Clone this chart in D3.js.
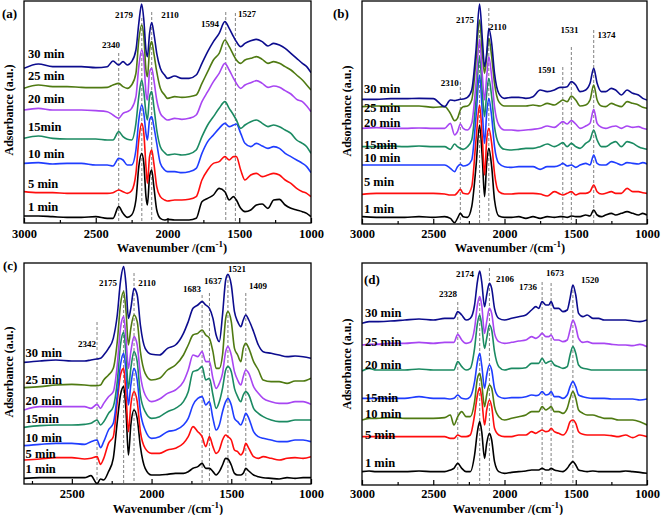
<!DOCTYPE html>
<html><head><meta charset="utf-8">
<script src="https://cdn.jsdelivr.net/npm/d3@7"></script>
<style>
body{margin:0;background:#fff}
svg{display:block}
text{font-family:"Liberation Serif","Times New Roman",serif;font-weight:bold;fill:#000}
</style>
</head><body>
<svg id="chart" width="661" height="515"></svg>
<script>
// ---------- DATA (absorbance in arbitrary units, stacked as plotted) ----------
const seriesLabels = ["30 min","25 min","20 min","15min","10 min","5 min","1 min"];
const seriesLabelsD = ["30 min","25 min","20 min","15min","10 min","5 min","1 min"];
const ticksMain = [3000,2500,2000,1500,1000];
const ticksC = [2500,2000,1500,1000];
const minorMain = [2750,2250,1750,1250];

// Panel (a)
const wnA = [3000,2900,2800,2700,2600,2500,2420,2380,2340,2310,2280,2250,2220,2200,2180,2165,2150,2140,2125,2110,2095,2075,2050,2020,2000,1950,1900,1850,1800,1760,1720,1680,1640,1600,1570,1540,1520,1490,1460,1420,1380,1340,1300,1260,1220,1180,1140,1100,1060,1030,1000];
const a30 = [795,808,800,800,800,797,800,817,805,815,805,815,850,930,988,940,850,830,900,932,900,840,795,775,765,772,765,765,775,810,845,875,900,935,915,890,875,860,870,878,882,875,862,870,865,855,840,825,810,800,782];
const a25 = [735,745,740,740,738,737,738,745,750,740,735,745,780,880,925,890,790,770,850,875,840,785,735,715,705,710,708,710,715,750,785,820,840,880,860,835,820,810,820,825,830,822,810,815,810,800,790,775,760,745,730];
const a20 = [670,675,670,670,670,668,665,655,645,660,665,675,710,800,850,820,720,700,785,795,760,700,660,645,640,645,642,645,655,695,725,755,780,810,790,765,750,735,745,752,758,750,738,742,738,728,718,702,695,682,665];
const a15 = [585,592,585,583,583,583,580,580,605,590,582,580,630,710,760,725,660,640,710,725,680,610,560,542,535,538,535,538,550,590,625,650,675,695,675,655,640,615,625,635,640,630,620,625,620,610,600,580,570,560,540];
const a10 = [510,512,508,510,510,505,505,502,525,520,505,505,550,640,685,660,600,580,640,650,620,570,510,490,485,485,482,485,495,540,575,595,615,630,620,625,628,600,570,560,570,562,555,560,555,540,530,520,510,500,482];
const a5  = [425,422,422,420,420,420,420,422,430,425,420,428,480,580,630,600,500,450,530,550,510,440,410,400,397,400,400,402,410,460,490,510,515,530,520,530,530,490,460,475,480,470,475,480,475,460,450,435,425,420,410];
const a1  = [352,352,350,348,348,350,345,345,380,360,348,355,400,500,540,510,410,385,470,490,440,370,345,340,342,340,340,340,345,395,405,415,435,425,400,410,400,375,365,370,385,388,375,400,402,385,375,370,365,360,350];
const peaksA = [2340,2179,2110,1594,1527];
const peakTopA = [841,946,964,964,961];
const peakLabelWnA = [2394,2303,1983,1704,1446];
const peakLabelValA = [856,946,946,919,949];
const labelValA = [826,760,691,607,526,436,367];

// Panel (b)
const wnB = [3000,2900,2800,2700,2600,2500,2420,2380,2350,2330,2310,2290,2260,2230,2200,2175,2155,2140,2125,2110,2090,2070,2040,2000,1950,1900,1850,1800,1750,1700,1650,1610,1591,1560,1531,1500,1470,1430,1400,1374,1350,1320,1290,1250,1220,1180,1140,1100,1060,1030,1000];
const b30 = [702,702,704,704,705,704,680,700,698,700,702,703,708,730,850,988,880,800,840,915,870,780,720,705,708,708,705,710,730,725,730,738,738,740,755,745,725,730,750,795,750,725,725,735,730,715,730,720,715,705,700];
const b25 = [680,682,682,682,682,678,680,660,638,645,670,680,682,700,820,940,840,780,830,885,830,750,695,682,682,682,682,685,682,690,685,695,700,695,712,700,682,685,700,745,700,682,680,690,685,680,695,690,685,678,675];
const b20 = [615,617,615,615,616,615,615,630,595,605,628,615,610,630,750,882,770,700,770,830,770,680,625,610,610,608,610,612,615,622,618,630,635,628,638,628,615,622,630,672,630,618,615,620,622,615,622,618,620,615,612];
const b15 = [560,560,562,560,562,560,560,552,568,560,555,552,560,580,700,830,720,650,720,765,710,620,568,552,550,552,555,555,560,568,560,568,572,560,570,560,555,570,580,610,580,560,560,570,575,560,575,570,560,555,552];
const b10 = [505,505,505,505,505,505,505,495,485,500,507,502,505,520,650,775,660,570,660,705,650,560,510,500,498,500,500,500,492,500,500,505,510,502,505,498,505,510,505,535,510,505,505,515,512,505,512,510,508,512,508];
const b5  = [417,420,420,420,420,420,418,415,415,422,432,420,418,440,580,685,580,475,580,615,570,480,425,418,418,420,420,420,418,412,425,418,415,420,425,415,420,420,425,445,425,418,420,425,420,420,435,425,425,422,420];
const b1  = [350,348,348,348,350,348,350,345,332,345,360,350,348,380,500,625,520,410,510,555,500,400,352,348,348,350,345,350,345,350,348,350,350,348,352,350,350,355,352,370,355,350,355,360,355,360,365,360,355,360,355];
const peaksB = [2310,2175,2110,1591,1531,1374];
const peakTopB = [754,910,976,799,859,910];
const peakLabelWnB = [2384,2278,2047,1704,1543,1284];
const peakLabelValB = [742,931,910,781,901,886];
const labelValB = [721,664,619,553,514,442,361];

// Panel (c)
const wnC = [2800,2700,2600,2500,2420,2380,2342,2320,2300,2270,2240,2215,2195,2175,2160,2145,2130,2110,2090,2070,2040,2000,1950,1900,1850,1800,1770,1740,1710,1683,1660,1637,1615,1595,1575,1555,1535,1521,1500,1480,1460,1440,1425,1409,1390,1360,1330,1300,1250,1200,1150,1100,1050,1000];
const c30 = [678,682,685,682,682,685,688,690,700,720,750,820,920,965,910,810,840,900,880,790,720,702,700,720,730,765,800,840,850,860,850,840,810,760,740,820,925,942,910,830,800,785,805,820,805,770,730,710,705,700,695,697,695,690];
const c25 = [602,605,610,612,610,608,608,610,625,640,660,740,850,890,830,730,780,820,800,710,645,625,630,655,670,700,730,760,765,775,760,750,710,660,660,700,810,830,800,720,700,680,720,735,720,680,655,625,620,620,615,622,622,630];
const c20 = [535,545,545,545,545,540,552,540,555,575,590,670,780,815,750,660,710,755,730,640,580,560,568,585,595,620,655,700,695,710,680,680,630,600,615,645,710,725,700,650,625,610,635,655,645,605,585,570,560,555,555,560,560,552];
const c15 = [483,488,490,490,492,495,505,490,500,525,545,620,730,768,700,600,660,710,680,580,530,510,515,530,540,560,590,650,655,665,625,630,580,540,560,600,655,665,650,600,575,560,580,590,580,540,525,515,505,500,500,505,505,505];
const c10 = [428,432,435,435,432,440,445,422,440,475,495,580,670,705,650,550,610,660,625,530,475,450,455,470,475,490,510,550,570,575,550,560,510,475,490,530,560,570,550,510,500,490,505,525,510,470,455,450,445,440,440,445,445,440];
const c5  = [385,388,392,392,388,390,395,372,390,435,455,560,640,660,580,470,550,590,560,470,420,405,405,415,420,435,455,485,470,455,425,455,425,405,415,445,460,455,445,415,410,400,410,435,420,395,390,395,390,385,390,392,390,395];
const c1  = [330,332,332,332,332,338,314,328,325,350,390,500,580,605,530,400,490,535,510,425,360,340,340,342,345,345,350,360,365,375,360,360,350,340,350,370,390,388,370,345,340,340,345,360,352,340,335,332,330,328,332,330,332,332];
const peaksC = [2342,2175,2110,1683,1637,1521,1409];
const peakTopC = [799,895,946,880,886,940,886];
const peakLabelWnC = [2405,2273,2029,1746,1615,1464,1332];
const peakLabelValC = [724,907,907,889,913,949,898];
const labelValC = [694,613,550,496,439,391,346];

// Panel (d)
const wnD = [3000,2950,2900,2800,2700,2600,2500,2420,2380,2355,2328,2300,2270,2240,2210,2190,2174,2160,2140,2125,2106,2090,2070,2040,2000,1950,1900,1850,1810,1780,1760,1736,1710,1690,1673,1650,1620,1590,1560,1540,1520,1500,1480,1450,1420,1380,1340,1300,1250,1200,1150,1100,1050,1000];
const d30 = [795,800,800,802,805,808,805,810,810,810,830,820,805,810,850,920,952,920,845,880,915,900,840,810,805,810,815,820,835,845,840,860,850,850,860,840,840,830,835,870,910,880,825,815,820,810,810,805,805,805,805,802,800,805];
const d25 = [730,732,732,735,735,738,735,738,738,738,762,745,735,738,780,850,875,850,765,800,840,825,765,740,735,738,742,745,755,750,755,765,755,755,760,745,745,740,745,775,805,785,750,738,740,735,735,735,732,730,730,728,732,725];
const d20 = [652,660,655,655,655,658,655,655,655,655,680,665,655,660,720,795,820,790,720,750,790,775,710,665,655,660,660,662,675,675,675,690,675,680,682,670,665,660,665,700,725,705,670,660,658,655,655,655,655,655,655,655,655,655];
const d15 = [570,570,570,570,570,575,570,570,568,570,580,570,568,575,620,680,705,670,600,640,670,655,600,575,570,572,572,575,580,578,580,590,580,582,590,575,575,570,580,605,620,605,580,575,572,570,570,570,568,568,568,568,565,568];
const d10 = [505,510,510,512,510,510,510,512,520,490,515,530,515,515,560,630,645,615,545,580,610,600,545,515,505,510,515,520,530,530,530,545,535,540,545,530,530,525,540,570,590,570,535,525,520,520,515,510,510,505,505,505,500,490];
const d5  = [455,455,455,455,455,455,455,455,450,450,460,455,455,460,520,580,602,570,490,535,565,545,480,460,455,455,460,460,470,465,470,475,470,472,480,470,465,460,475,500,505,495,470,462,460,460,460,460,458,455,460,452,460,455];
const d1  = [350,352,350,350,350,352,350,350,355,360,375,360,350,350,400,470,500,470,390,435,465,445,380,350,345,348,350,352,355,355,355,360,355,355,360,355,352,350,360,372,380,370,355,352,350,352,350,350,350,350,352,350,348,345];
const peaksD = [2328,2174,2106,1736,1673,1520];
const peakTopD = [859,871,961,919,916,910];
const peakLabelWnD = [2396,2277,1996,1835,1646,1400];
const peakLabelValD = [874,934,919,895,937,916];
const labelValD = [814,727,658,559,511,448,364];

const colorsStd = ["#0c0c8e","#4f7a12","#a846f2","#1b8a62","#1f3dff","#ff0d0d","#000000"];
const colorsD   = ["#0c0c8e","#a846f2","#1b8a62","#1f3dff","#4f7a12","#ff0d0d","#000000"];

// ---------- DRAW ----------
const svg = d3.select("#chart");
const panels = [
  {letter:"(a)", lx:2, ly:18, box:{l:24,r:311,t:1,b:223}, xd:[3000,1000], yd:[331,997], wn:wnA,
   series:[a30,a25,a20,a15,a10,a5,a1], colors:colorsStd, ticks:ticksMain, minor:minorMain, labels:seriesLabels,
   labelWn:2972, labelVal:labelValA, peaks:peaksA, peakTop:peakTopA, plw:peakLabelWnA, plv:peakLabelValA,
   tickY:15, titleX:172, titleY:252, ylabX:13, ylabY:110},
  {letter:"(b)", lx:333, ly:18, box:{l:362,r:647,t:1,b:224}, xd:[3000,1000], yd:[328,997], wn:wnB,
   series:[b30,b25,b20,b15,b10,b5,b1], colors:colorsStd, ticks:ticksMain, minor:minorMain, labels:seriesLabels,
   labelWn:2986, labelVal:labelValB, peaks:peaksB, peakTop:peakTopB, plw:peakLabelWnB, plv:peakLabelValB,
   tickY:14, titleX:510, titleY:252, ylabX:351, ylabY:111},
  {letter:"(c)", lx:3, ly:270, box:{l:24,r:311,t:263,b:484}, xd:[2800,1000], yd:[313,976], wn:wnC,
   series:[c30,c25,c20,c15,c10,c5,c1], colors:colorsStd, ticks:ticksC, minor:[2750].concat(minorMain.slice(1)), labels:seriesLabels,
   labelWn:2790, labelVal:labelValC, peaks:peaksC, peakTop:peakTopC, plw:peakLabelWnC, plv:peakLabelValC,
   tickY:14, titleX:168, titleY:513, ylabX:13, ylabY:372},
  {letter:"(d)", lx:364, ly:284, box:{l:362,r:647,t:263,b:485}, xd:[3000,1000], yd:[310,976], wn:wnD,
   series:[d30,d25,d20,d15,d10,d5,d1], colors:colorsD, ticks:ticksMain, minor:minorMain, labels:seriesLabelsD,
   labelWn:2979, labelVal:labelValD, peaks:peaksD, peakTop:peakTopD, plw:peakLabelWnD, plv:peakLabelValD,
   tickY:13, titleX:508, titleY:513, ylabX:351, ylabY:364}
];

panels.forEach((p,pi)=>{
  const b = p.box;
  const x = d3.scaleLinear().domain(p.xd).range([b.l,b.r]);
  const y = d3.scaleLinear().domain(p.yd).range([b.b,b.t]);
  const g = svg.append("g");
  const clipId = "clip"+pi;
  svg.append("clipPath").attr("id",clipId).append("rect")
     .attr("x",b.l).attr("y",b.t).attr("width",b.r-b.l).attr("height",b.b-b.t);

  // dashed reference lines
  g.append("g").selectAll("line").data(p.peaks).join("line")
    .attr("x1",d=>x(d)).attr("x2",d=>x(d))
    .attr("y1",(d,i)=>y(p.peakTop[i])).attr("y2",b.b-1)
    .attr("stroke","#808080").attr("stroke-width",1).attr("stroke-dasharray","3,2");

  // spectra (draw bottom first so top curves overlay)
  const line = d3.line().x((d,i)=>x(p.wn[i])).y(d=>y(d)).curve(d3.curveMonotoneX);
  const lg = g.append("g").attr("clip-path",`url(#${clipId})`);
  for(let k=p.series.length-1;k>=0;k--){
    lg.append("path").datum(p.series[k]).attr("d",line)
      .attr("fill","none").attr("stroke",p.colors[k]).attr("stroke-width",1.6)
      .attr("stroke-linejoin","round");
  }

  // frame
  g.append("rect").attr("x",b.l).attr("y",b.t).attr("width",b.r-b.l).attr("height",b.b-b.t)
    .attr("fill","none").attr("stroke","#000").attr("stroke-width",1.3);

  // bottom axis (inward ticks)
  const ax = g.append("g").attr("transform",`translate(0,${b.b})`)
    .call(d3.axisBottom(x).tickValues(p.ticks).tickSize(-5).tickPadding(p.tickY).tickFormat(d3.format("d")));
  ax.select(".domain").remove();
  ax.selectAll("line").attr("stroke","#000").attr("stroke-width",1.2);
  ax.selectAll("text").attr("dy","0").style("font-size","12.5px").style("font-family","'Liberation Serif',serif").style("font-weight","bold").attr("fill","#000");
  const mx = g.append("g").attr("transform",`translate(0,${b.b})`)
    .call(d3.axisBottom(x).tickValues(p.minor).tickSize(-3).tickFormat(""));
  mx.select(".domain").remove();
  mx.selectAll("line").attr("stroke","#000").attr("stroke-width",1.2);

  // axis title
  const t = g.append("text").attr("x",p.titleX).attr("y",p.titleY).attr("text-anchor","middle").style("font-size","12.5px");
  t.append("tspan").text("Wavenumber  /(cm");
  t.append("tspan").attr("dy",-5).style("font-size","9px").text("-1");
  t.append("tspan").attr("dy",5).text(")");

  // y label
  g.append("text").attr("transform",`translate(${p.ylabX},${p.ylabY}) rotate(-90)`)
    .attr("text-anchor","middle").style("font-size","12px").text("Adsorbance (a.u.)");

  // panel letter
  g.append("text").attr("x",p.lx).attr("y",p.ly).style("font-size","13px").text(p.letter);

  // series labels
  g.append("g").selectAll("text").data(p.labels).join("text")
    .attr("x",x(p.labelWn)).attr("y",(d,i)=>y(p.labelVal[i]))
    .style("font-size","12.5px").text(d=>d);

  // peak labels
  g.append("g").selectAll("text").data(p.peaks).join("text")
    .attr("x",(d,i)=>x(p.plw[i])).attr("y",(d,i)=>y(p.plv[i]))
    .attr("text-anchor","middle").style("font-size","9px").text(d=>d);
});
</script>
</body></html>
